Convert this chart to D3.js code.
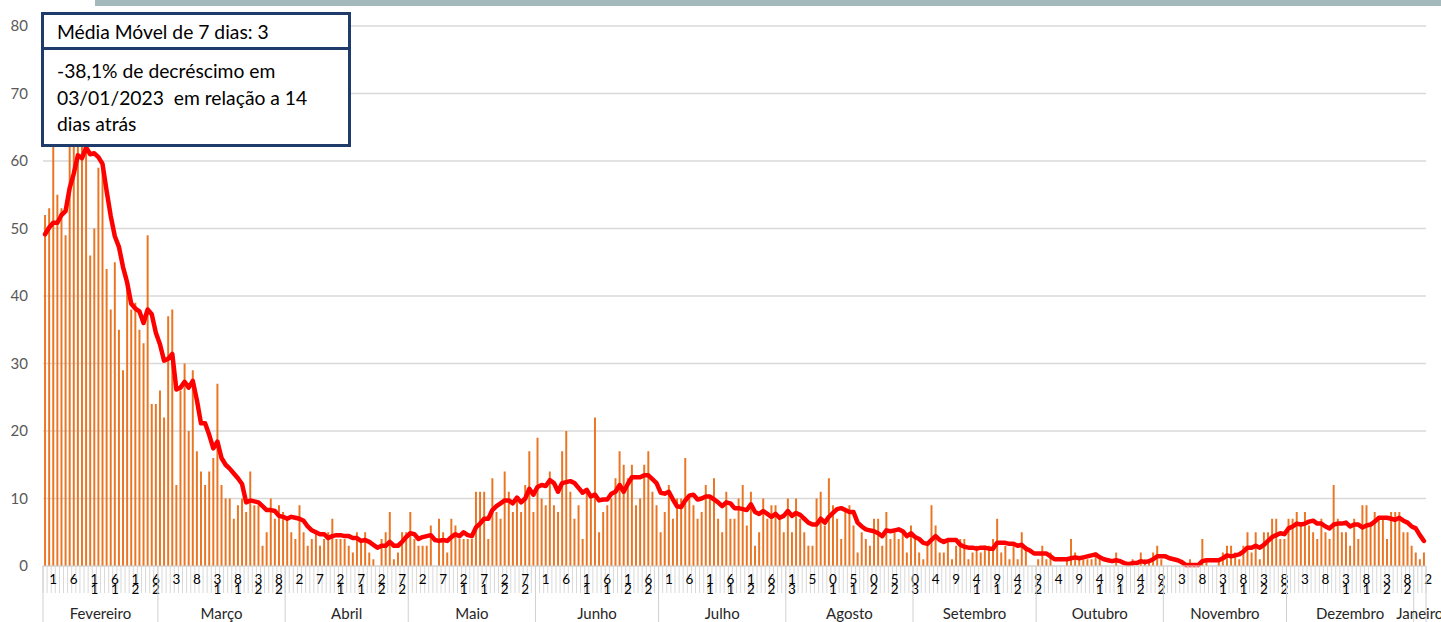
<!DOCTYPE html>
<html><head><meta charset="utf-8">
<script src="https://cdn.jsdelivr.net/npm/d3@7/dist/d3.min.js"></script>
<style>body{margin:0;background:#fff;overflow:hidden}svg{display:block}</style>
</head><body>
<svg id="chart" width="1441" height="622"></svg>
<script>
// ---------- DATA ----------
const startDate = new Date(2022, 1, 1); // 1 Feb 2022
const priorDays = [46, 62, 55, 45, 45, 39]; // 26-31 Jan 2022 (feed the first moving-average points)
const fev = [52,53,67,55,53,49,63,67,72,64,66,46,50,59,60,44,38,45,35,29,43,38,39,35,33,49,24,24];
const mar = [26,22,37,38,12,26,30,20,29,17,14,12,14,16,27,12,10,10,7,9,10,8,14,9,9,3,5,10,7,9,8];
const abr = [7,5,4,9,5,3,4,5,3,4,5,7,4,4,4,3,2,5,4,5,2,1,0,4,5,8,1,2,5,5];
const mai = [8,4,3,3,3,6,0,7,5,2,7,6,4,4,4,4,11,11,11,4,13,8,7,14,11,8,10,8,12,17,8];
const jun = [19,10,9,14,9,8,17,20,11,7,9,4,11,10,22,5,8,9,10,13,17,15,13,15,9,10,15,17,11,9];
const jul = [5,8,12,7,10,10,16,10,9,7,8,12,10,13,7,5,11,7,7,10,12,6,11,3,5,10,7,9,9,7,5];
const ago = [10,5,10,7,5,3,3,10,11,6,13,9,7,4,8,9,6,2,5,4,3,7,7,3,8,4,5,4,5,2,6];
const setb = [4,2,1,3,9,6,2,2,4,1,3,4,4,1,2,3,2,3,3,4,7,2,3,1,3,1,5,3,0,0];
const outu = [1,3,1,2,0,0,0,1,4,2,1,1,1,1,2,1,0,0,0,2,0,0,0,1,0,2,1,1,2,3,1];
const nov = [0,0,0,0,0,0,1,0,0,4,1,0,0,1,2,3,3,2,1,3,5,2,5,1,5,5,7,7,4,4];
const dez = [7,7,8,6,8,6,5,4,7,5,4,12,7,5,5,3,7,4,9,9,6,8,7,7,4,8,8,8,5,5,3];
const jan = [2,1,2];
const monthNames = ["Fevereiro","Março","Abril","Maio","Junho","Julho","Agosto","Setembro","Outubro","Novembro","Dezembro","Janeiro"];
const yTicks = [0,10,20,30,40,50,60,70,80];
const labelEvery = 5;
const maWindow = 7;
const boxTitle = "Média Móvel de 7 dias: 3";
const boxLines = ["-38,1% de decréscimo em", "03/01/2023  em relação a 14", "dias atrás"];

// ---------- BUILD ----------
const monthly = [fev, mar, abr, mai, jun, jul, ago, setb, outu, nov, dez, jan];
const values = monthly.flat();
const N = values.length;
const days = values.map((v, i) => ({ i, v, date: d3.timeDay.offset(startDate, i) }));
const allVals = priorDays.concat(values);
const ma = values.map((v, i) => d3.mean(allVals.slice(i + priorDays.length - maWindow + 1, i + priorDays.length + 1)));

const FONT = "Lato, 'Open Sans', sans-serif";
const W = 1441, H = 622;
const pLeft = 43, pRight = 1426, pTop = 26, pBase = 566;
const svg = d3.select("#chart");

const x = d3.scaleBand().domain(d3.range(N)).range([pLeft, pRight]).padding(0);
const step = x.step();
const y = d3.scaleLinear().domain([0, 80]).range([pBase, pTop]);

// top decorative band
svg.append("rect").attr("x", 95).attr("y", 0).attr("width", W - 95).attr("height", 6).attr("fill", "#A3B9BB");

// gridlines
svg.append("g").selectAll("line").data(yTicks).join("line")
  .attr("x1", pLeft).attr("x2", pRight)
  .attr("y1", d => y(d)).attr("y2", d => y(d))
  .attr("stroke", "#D9D9D9").attr("stroke-width", 1.5);

// y axis labels
const yAxis = d3.axisLeft(y).tickValues(yTicks).tickSize(0).tickPadding(0);
svg.append("g").attr("transform", "translate(28,0)").call(yAxis)
  .call(g => g.select(".domain").remove())
  .call(g => g.selectAll("text").attr("font-family", FONT).attr("font-size", 15).attr("fill", "#595959"));

// bars
const bw = Math.max(1.6, step * 0.48);
svg.append("g").selectAll("rect").data(days).join("rect")
  .attr("x", d => x(d.i) + (step - bw) / 2)
  .attr("width", bw)
  .attr("y", d => y(d.v))
  .attr("height", d => y(0) - y(d.v))
  .attr("fill", "#EA7624");

// moving average line
const maLine = d3.line().x((d, i) => x(i) + step / 2).y(d => y(d)).curve(d3.curveLinear);
svg.append("path").datum(ma).attr("d", maLine)
  .attr("fill", "none").attr("stroke", "#FF0000").attr("stroke-width", 4.5)
  .attr("stroke-linejoin", "round").attr("stroke-linecap", "round");

// category axis: tick band
const bandBottom = 593;
svg.append("g").selectAll("line").data(d3.range(N + 1)).join("line")
  .attr("x1", i => pLeft + i * step).attr("x2", i => pLeft + i * step)
  .attr("y1", pBase).attr("y2", bandBottom)
  .attr("stroke", "#D9D9D9").attr("stroke-width", 1);
svg.append("line").attr("x1", pLeft).attr("x2", pRight).attr("y1", pBase).attr("y2", pBase)
  .attr("stroke", "#D9D9D9").attr("stroke-width", 1);

// day labels (every 5th day, centred on the 5-day span; two-digit numbers wrapped into one stacked text)
const labelled = days.filter(d => d.i % labelEvery === 0);
const lg = svg.append("g").attr("font-family", FONT).attr("font-size", 13.5).attr("fill", "#000").attr("text-anchor", "middle");
labelled.forEach(d => {
  const s = String(d.date.getDate());
  const cx = x(d.i) + step * labelEvery / 2;
  const t = lg.append("text").attr("x", cx).attr("y", 584);
  if (s.length === 1) {
    t.text(s);
  } else {
    t.append("tspan").attr("x", cx).attr("y", 584).text(s[1]);
    t.append("tspan").attr("x", cx).attr("y", 594).text(s[0]);
  }
});

// month groups
const groups = d3.groups(days, d => d.date.getFullYear() * 12 + d.date.getMonth());
const mg = svg.append("g");
groups.forEach(([k, arr], gi) => {
  const x0 = x(arr[0].i), x1 = x(arr[arr.length - 1].i) + step;
  mg.append("line").attr("x1", x0).attr("x2", x0).attr("y1", pBase).attr("y2", H)
    .attr("stroke", "#D0D0D0").attr("stroke-width", 1);
  if (gi === groups.length - 1) {
    mg.append("line").attr("x1", x1).attr("x2", x1).attr("y1", pBase).attr("y2", H)
      .attr("stroke", "#D0D0D0").attr("stroke-width", 1);
  }
  mg.append("text").attr("x", (x0 + x1) / 2).attr("y", 619)
    .attr("text-anchor", "middle").attr("font-family", FONT).attr("font-size", 15).attr("fill", "#262626")
    .text(monthNames[gi]);
});

// annotation box
const box = svg.append("g");
box.append("rect").attr("x", 42.5).attr("y", 13.5).attr("width", 307).attr("height", 132)
  .attr("fill", "#fff").attr("stroke", "#1F3B6B").attr("stroke-width", 3);
box.append("line").attr("x1", 42.5).attr("x2", 349.5).attr("y1", 48.5).attr("y2", 48.5)
  .attr("stroke", "#1F3B6B").attr("stroke-width", 3);
box.append("text").attr("x", 57).attr("y", 38.5).attr("font-family", FONT).attr("font-size", 19.3).attr("fill", "#000").text(boxTitle);
box.selectAll("text.l").data(boxLines).join("text").attr("class", "l")
  .attr("x", 57).attr("y", (d, i) => 78 + i * 26.5)
  .attr("font-family", FONT).attr("font-size", 19.3).attr("fill", "#000")
  .attr("xml:space", "preserve").style("white-space", "pre").text(d => d);
</script>
</body></html>
